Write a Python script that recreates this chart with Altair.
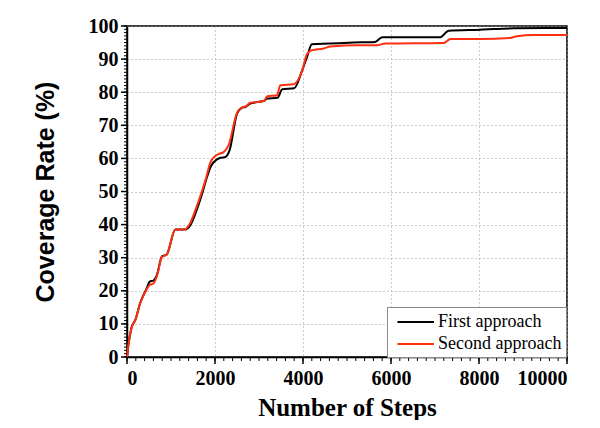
import altair as alt
import pandas as pd

# ---- data ----
steps_first = [0, 30, 100, 190, 300, 450, 515, 600, 680, 795, 900, 1100, 1320, 1440, 1560,
               1700, 1800, 1910, 2045, 2130, 2235, 2330, 2500, 2600, 2700, 2800, 2950, 3120,
               3180, 3420, 3530, 3800, 3980, 4100, 4200, 4600, 5150, 5640, 5800, 7120, 7310,
               8030, 8790, 10000]
cov_first = [0, 3.5, 8.7, 11.2, 16.3, 20.8, 22.8, 23.1, 24.8, 30.4, 30.9, 38.5, 38.5, 39.8, 43.5,
             49.0, 53.6, 57.7, 59.7, 60.2, 60.4, 62.4, 73.5, 75.2, 75.6, 76.6, 77.0, 77.4,
             78.1, 78.3, 80.9, 81.2, 86.5, 91.0, 94.5, 94.7, 95.0, 95.2, 96.6, 96.6, 98.6,
             98.9, 99.3, 99.4]

steps_second = [0, 30, 100, 190, 300, 450, 515, 600, 680, 795, 900, 1100, 1320, 1430, 1550,
                1690, 1800, 1893, 2007, 2100, 2196, 2310, 2500, 2600, 2700, 2800, 2950, 3120,
                3180, 3410, 3484, 3790, 3980, 4090, 4205, 4470, 4620, 5230, 5680, 5870, 7200,
                7350, 8030, 8710, 8860, 9240, 10000]
cov_second = [0, 3.5, 8.7, 11.2, 16.3, 20.5, 21.8, 22.2, 24.5, 30.2, 30.9, 38.5, 38.6, 40.3, 44.2,
              49.5, 54.2, 58.7, 60.7, 61.4, 61.9, 64.0, 73.8, 75.3, 75.7, 76.8, 77.0, 77.4,
              78.7, 79.1, 82.1, 82.4, 86.5, 91.5, 92.7, 93.2, 93.8, 94.2, 94.2, 94.7, 94.9,
              96.1, 96.1, 96.4, 96.9, 97.3, 97.3]

series_names = ["First approach", "Second approach"]
series_colors = ["#000000", "#ff3010"]

x_major_ticks = list(range(0, 10001, 2000))
x_minor_ticks = list(range(0, 10001, 200))
y_major_ticks = list(range(0, 101, 10))
y_minor_ticks = list(range(0, 101, 1))

W, H = 440, 331
SERIF = "Liberation Serif"
SANS = "Liberation Sans"

df = pd.concat([
    pd.DataFrame({"steps": steps_first, "coverage": cov_first, "series": series_names[0], "order": 0}),
    pd.DataFrame({"steps": steps_second, "coverage": cov_second, "series": series_names[1], "order": 1}),
])

xscale = alt.Scale(domain=[0, 10000], nice=False)
yscale = alt.Scale(domain=[0, 100], nice=False)

common_axis = dict(domainColor="black", domainWidth=1.5, labelColor="black",
                   labelFont=SERIF, labelFontSize=20, labelFontWeight="bold",
                   gridColor="#999999", gridDash=[1, 3], gridWidth=1, zindex=0)

lines = alt.Chart(df).mark_line(strokeWidth=2, interpolate="monotone").encode(
    x=alt.X("steps:Q", scale=xscale,
            axis=alt.Axis(values=x_major_ticks, format="d", title="Number of Steps",
                          titleFont=SERIF, titleFontSize=25, titleFontWeight="bold",
                          titleColor="black", titlePadding=7, labelPadding=11,
                          ticks=False, grid=True, orient="bottom", **common_axis)),
    y=alt.Y("coverage:Q", scale=yscale,
            axis=alt.Axis(values=y_major_ticks, format="d", title="Coverage Rate (%)",
                          titleFont=SANS, titleFontSize=25, titleFontWeight="bold",
                          titleColor="black", titlePadding=30, labelPadding=9,
                          ticks=False, grid=True, orient="left", **common_axis)),
    color=alt.Color("series:N", scale=alt.Scale(domain=series_names, range=series_colors),
                    legend=alt.Legend(title=None, orient="none", legendX=260, legendY=281,
                                      labelFont=SERIF, labelFontSize=18, labelColor="black",
                                      symbolType="M-0.45,0H3.2", symbolStrokeWidth=2,
                                      symbolSize=400, symbolFillColor="transparent",
                                      strokeColor="#888888", fillColor="white", padding=4,
                                      rowPadding=2, labelOffset=25)),
    order="order:Q",
)


def yticks(vals, length, width):
    return alt.Chart(pd.DataFrame({"v": vals})).mark_rule(
        color="black", strokeWidth=width, clip=False).encode(
        y=alt.Y("v:Q", scale=yscale, axis=None),
        x=alt.value(-length), x2=alt.value(0))


def xticks(vals, length, width):
    return alt.Chart(pd.DataFrame({"v": vals})).mark_rule(
        color="black", strokeWidth=width, clip=False).encode(
        x=alt.X("v:Q", scale=xscale, axis=None),
        y=alt.value(H), y2=alt.value(H + length))


chart = alt.layer(
    lines,
    yticks(y_minor_ticks, 3, 1),
    yticks(y_major_ticks, 6, 1.5),
    xticks(x_minor_ticks, 4, 1),
    xticks(x_major_ticks, 7, 1.5),
).resolve_axis(x="independent", y="independent").properties(
    width=W, height=H,
    autosize=alt.AutoSizeParams(type="none"),
    padding={"left": 119, "top": 18, "right": 25, "bottom": 63},
    background="white",
).configure_view(stroke="black", strokeWidth=1.5)

chart.save("out.html", embed_options={"renderer": "svg", "actions": False})
